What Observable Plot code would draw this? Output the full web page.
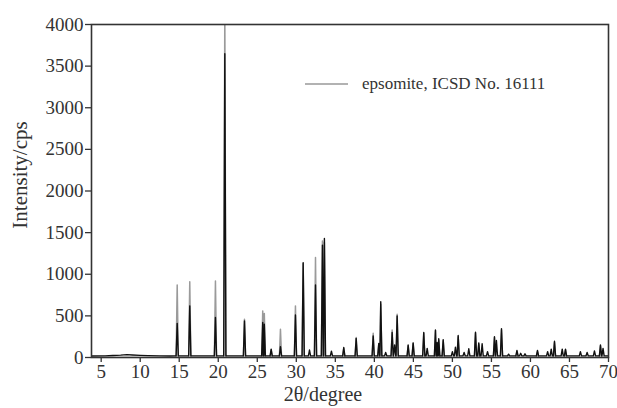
<!DOCTYPE html>
<html>
<head>
<meta charset="utf-8">
<script src="https://cdn.jsdelivr.net/npm/d3@7"></script>
<script src="https://cdn.jsdelivr.net/npm/@observablehq/plot@0.6"></script>
<style>
  html, body { margin: 0; padding: 0; background: #fff; }
  #wrap { position: relative; width: 617px; height: 408px; overflow: hidden; }
  #chart svg, #chart svg text { font-family: "Liberation Serif", "Times New Roman", serif !important; }
  #legend { position: absolute; left: 305px; top: 74px; font-family: "Liberation Serif", serif; font-size: 17px; color: #333; display: flex; align-items: center; white-space: nowrap; }
  #legend svg { margin-right: 14px; }
</style>
</head>
<body>
<div id="wrap"><div id="chart"></div>
<div id="legend"><svg width="43" height="4"><line x1="0" x2="43" y1="2" y2="2" stroke="#999" stroke-width="1.5"/></svg><span>epsomite, ICSD No. 16111</span></div>
</div>
<script>
// Measured pattern (black): peak positions (2θ) and intensities (cps)
const measTheta = [14.74, 16.35, 19.64, 20.84, 23.36, 25.70, 25.90, 26.78, 27.97, 29.89, 30.88, 31.69, 32.46, 33.35, 33.60, 34.5, 36.08, 37.67, 39.85, 40.57, 40.82, 41.45, 42.28, 42.60, 42.92, 44.33, 44.97, 46.33, 46.77, 47.83, 48.05, 48.25, 48.82, 50.0, 50.39, 50.74, 51.5, 52.1, 52.96, 53.38, 53.81, 54.5, 55.39, 55.64, 56.29, 57.2, 58.27, 58.75, 59.3, 60.9, 62.2, 62.66, 63.08, 64.07, 64.49, 66.4, 67.26, 68.2, 68.97, 69.3];
const measInt   = [410, 620, 480, 3650, 440, 420, 400, 100, 130, 510, 1140, 90, 870, 1350, 1430, 75, 120, 230, 260, 170, 670, 60, 300, 150, 500, 150, 175, 300, 110, 330, 180, 225, 215, 70, 125, 265, 60, 105, 305, 175, 165, 70, 250, 205, 345, 40, 85, 50, 45, 85, 70, 100, 195, 100, 100, 70, 60, 80, 150, 110];
// Low-angle background of the measured pattern
const baseTheta = [3.8, 5.5, 6.5, 7.5, 8.3, 9.0, 10.0, 11.0, 12.5, 13.8];
const baseInt   = [18, 20, 24, 28, 34, 30, 25, 22, 20, 18];
// Reference pattern (grey): epsomite, ICSD No. 16111
const refTheta = [14.74, 16.35, 19.64, 20.84, 23.36, 25.70, 25.90, 26.78, 27.97, 29.89, 30.88, 32.46, 33.35, 33.60, 36.08, 37.67, 39.85, 40.57, 40.82, 42.28, 42.92, 44.33, 44.97, 46.33, 47.83, 48.25, 48.82, 50.74, 52.96, 53.38, 55.39, 56.29, 58.27, 60.9, 63.08, 64.49, 68.97];
const refInt   = [870, 910, 920, 4200, 460, 560, 530, 90, 340, 620, 1130, 1200, 1400, 1380, 110, 240, 290, 160, 640, 330, 520, 140, 170, 290, 320, 210, 200, 250, 290, 160, 240, 330, 70, 70, 180, 90, 140];
// Axis ticks
const xTicks = [5, 10, 15, 20, 25, 30, 35, 40, 45, 50, 55, 60, 65, 70];
const yTicks = [0, 500, 1000, 1500, 2000, 2500, 3000, 3500, 4000];

const HW = 0.14;        // peak half-width at base (degrees) – drawing style
const measBase = 20;    // background level of measured curve
const refBase = 0;

function profile(theta, inten, base, extra) {
  const pts = [];
  theta.forEach((t, i) => {
    pts.push({t: t - HW, v: base});
    pts.push({t: t, v: inten[i]});
    pts.push({t: t + HW, v: base});
  });
  if (extra) extra.forEach(p => pts.push(p));
  pts.push({t: 70, v: base});
  pts.sort((a, b) => a.t - b.t);
  return pts;
}
const meas = profile(measTheta, measInt, measBase, baseTheta.map((t, i) => ({t, v: baseInt[i]})));
const ref = profile(refTheta, refInt, refBase, [{t: 3.76, v: refBase}]);

const serif = "Liberation Serif";
const chart = Plot.plot({
  width: 617,
  height: 408,
  marginLeft: 91,
  marginRight: 9,
  marginTop: 24,
  marginBottom: 51,
  style: {fontFamily: serif, fontSize: "19px", color: "#333", background: "#fff", overflow: "visible"},
  x: {domain: [3.76, 70]},
  y: {domain: [0, 4000]},
  marks: [
    Plot.line(ref, {x: "t", y: "v", stroke: "#9a9a9a", strokeWidth: 1.5, clip: true}),
    Plot.line(meas, {x: "t", y: "v", stroke: "#111", strokeWidth: 1.4, clip: true}),
    Plot.frame({stroke: "#333", strokeWidth: 1.6}),
    Plot.axisX({ticks: xTicks, tickSize: 5, tickPadding: 2, label: null, stroke: "#333", strokeWidth: 1.3, fontSize: 19, fontFamily: serif, fill: "#333"}),
    Plot.axisY({ticks: yTicks, tickSize: 6, tickPadding: 2, tickFormat: d3.format("d"), label: null, stroke: "#333", strokeWidth: 1.3, fontSize: 19, fontFamily: serif, fill: "#333"}),
    Plot.text(["Intensity/cps"], {frameAnchor: "left", textAnchor: "middle", dx: -71, dy: -16, rotate: -90, fontSize: 21, fontFamily: serif, fill: "#333"}),
    Plot.text(["2θ/degree"], {frameAnchor: "bottom", dx: -27, dy: 43, fontSize: 20, fontFamily: serif, fill: "#333"})
  ]
});
document.getElementById("chart").appendChild(chart);
</script>
</body>
</html>
